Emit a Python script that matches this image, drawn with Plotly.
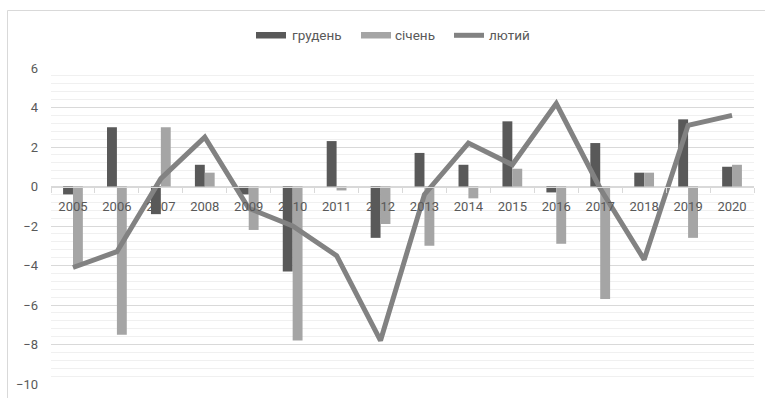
import plotly.graph_objects as go

years = ["2005", "2006", "2007", "2008", "2009", "2010", "2011", "2012",
         "2013", "2014", "2015", "2016", "2017", "2018", "2019", "2020"]
dec_vals = [-0.4, 3.0, -1.4, 1.1, -0.4, -4.3, 2.3, -2.6,
            1.7, 1.1, 3.3, -0.3, 2.2, 0.7, 3.4, 1.0]
jan_vals = [-4.0, -7.5, 3.0, 0.7, -2.2, -7.8, -0.2, -1.9,
            -3.0, -0.6, 0.9, -2.9, -5.7, 0.7, -2.6, 1.1]
feb_vals = [-4.1, -3.3, 0.4, 2.5, -1.1, -2.0, -3.5, -7.8,
            -0.4, 2.2, 1.1, 4.2, -0.1, -3.7, 3.1, 3.6]
series_names = ["грудень", "січень", "лютий"]

W, H = 765, 398
L, R, T, B = 51, 11, 68, 14
PW, PH = W - L - R, H - T - B


def px(x):
    return (x - L) / PW


def py(y):
    return (H - B - y) / PH


DARK = "#595959"
LIGHT = "#a5a5a5"
LINE = "#828282"
TXT = "#595959"
FONT = "Roboto, 'Noto Sans', sans-serif"

fig = go.Figure()
fig.add_bar(x=years, y=dec_vals, name=series_names[0], marker_color=DARK,
            marker_line_width=0)
fig.add_bar(x=years, y=jan_vals, name=series_names[1], marker_color=LIGHT,
            marker_line_width=0)
fig.add_scatter(x=years, y=feb_vals, name=series_names[2], mode="lines",
                line=dict(color=LINE, width=5))

shapes = [
    # chart frame
    dict(type="rect", xref="paper", yref="paper", x0=px(7.5), x1=px(900),
         y0=py(600), y1=py(10.5), line=dict(color="#d9d9d9", width=1),
         layer="below"),
    # legend keys
    dict(type="rect", xref="paper", yref="paper", x0=px(256), x1=px(286),
         y0=py(38.5), y1=py(32), fillcolor=DARK, line_width=0),
    dict(type="rect", xref="paper", yref="paper", x0=px(361), x1=px(391),
         y0=py(38.5), y1=py(32), fillcolor=LIGHT, line_width=0),
    dict(type="line", xref="paper", yref="paper", x0=px(454), x1=px(484),
         y0=py(35.3), y1=py(35.3), line=dict(color=LINE, width=5)),
]
annotations = [
    dict(text=series_names[0], x=px(290), y=py(35), xanchor="left"),
    dict(text=series_names[1], x=px(393), y=py(35), xanchor="left"),
    dict(text=series_names[2], x=px(487), y=py(35), xanchor="left"),
]
for a in annotations:
    a.update(xref="paper", yref="paper", yanchor="middle", showarrow=False,
             font=dict(family=FONT, size=13.5, color=TXT))

fig.update_layout(
    width=W, height=H,
    margin=dict(l=L, r=R, t=T, b=B, autoexpand=False),
    paper_bgcolor="white", plot_bgcolor="white",
    barmode="group", bargap=0.55, bargroupgap=0,
    showlegend=False,
    shapes=shapes, annotations=annotations,
    font=dict(family=FONT, size=13, color=TXT),
    xaxis=dict(
        type="category", anchor="free", position=10 / 16,
        automargin=False,
        showline=True, linecolor="#d9d9d9", linewidth=1,
        ticks="outside", tickson="boundaries", ticklen=5,
        tickcolor="#d9d9d9", showgrid=False,
        ticklabelstandoff=8,
        tickfont=dict(family=FONT, size=13, color=TXT),
    ),
    yaxis=dict(
        range=[-10, 6], dtick=2, tick0=0, automargin=False,
        showgrid=True, gridcolor="#d9d9d9", gridwidth=1,
        zeroline=False, showline=False,
        minor=dict(dtick=0.4, tick0=0, showgrid=True, gridcolor="#f0f0f0",
                   gridwidth=1),
        ticklabelstandoff=12,
        tickfont=dict(family=FONT, size=13, color=TXT),
    ),
)

fig.write_html("out.html")
